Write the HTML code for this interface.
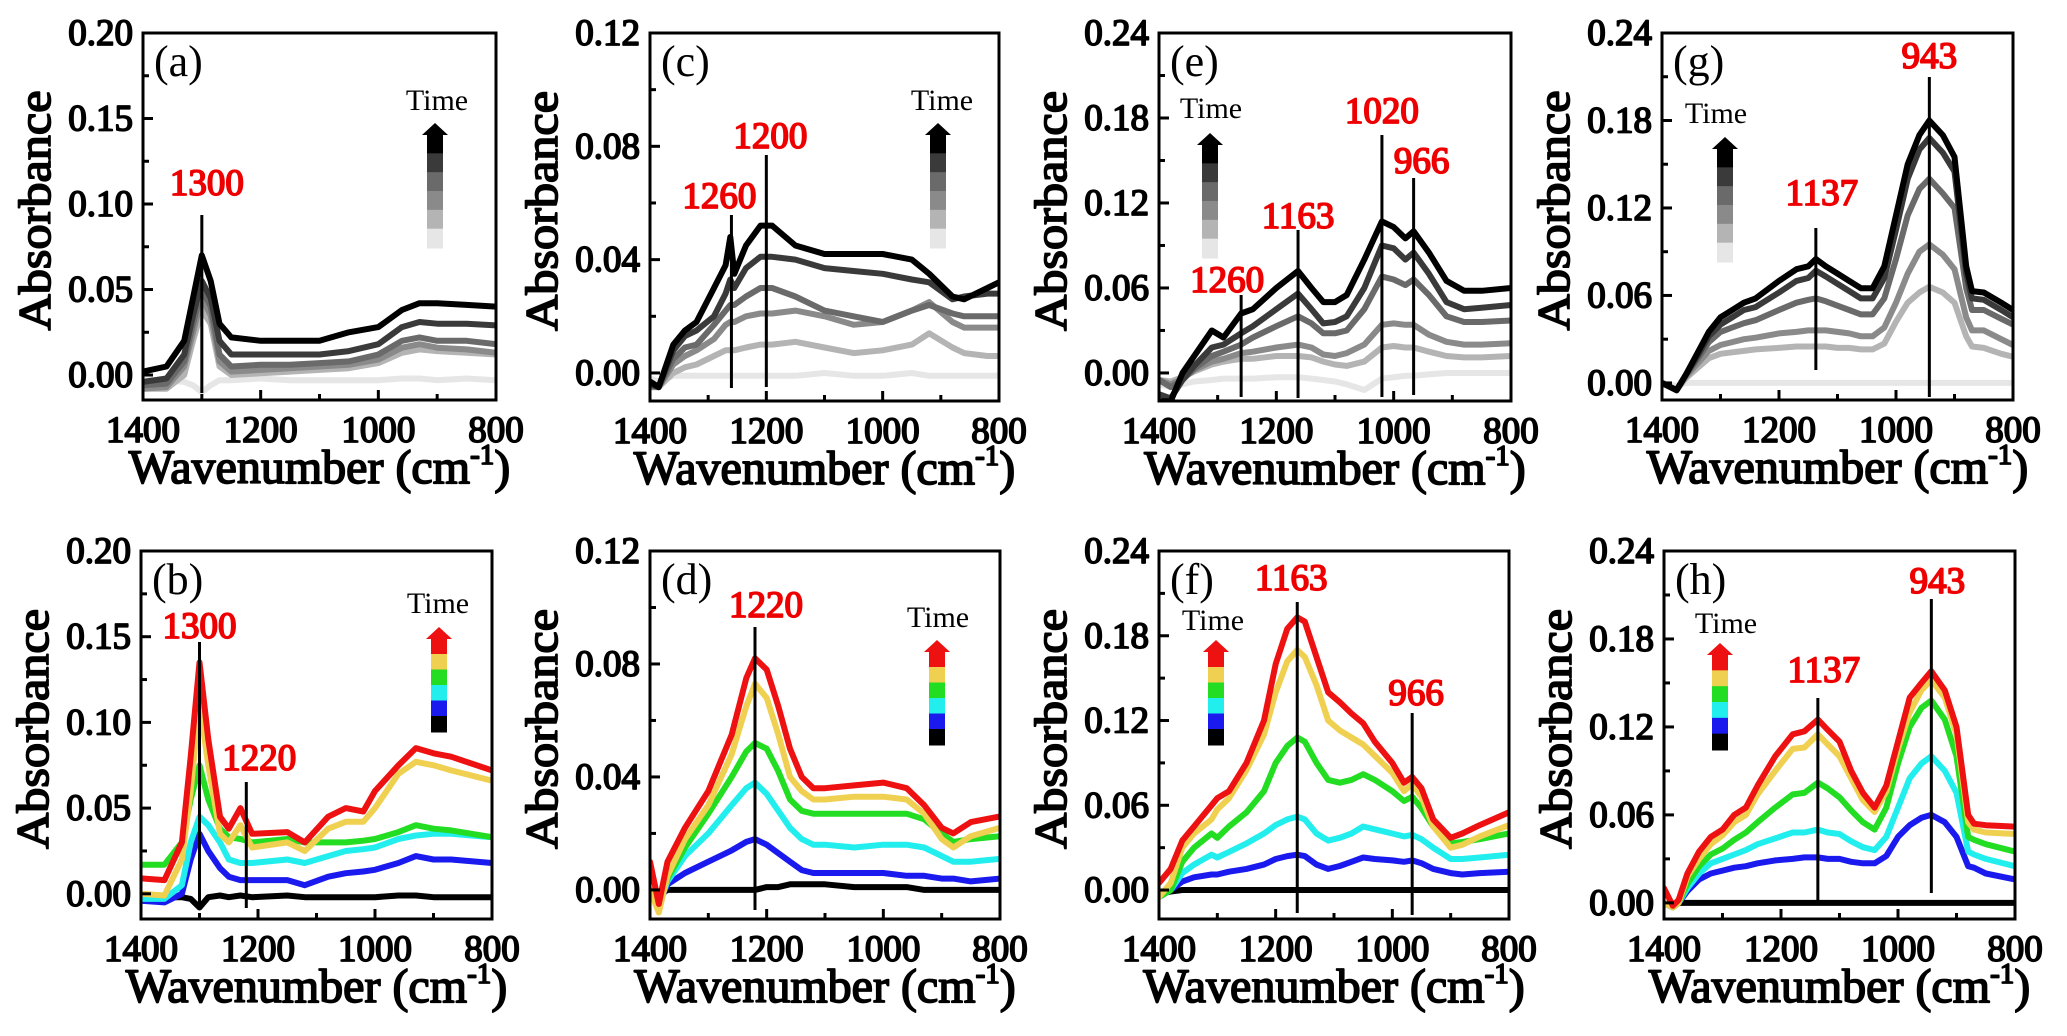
<!DOCTYPE html>
<html>
<head>
<meta charset="utf-8">
<style>
html,body{margin:0;padding:0;background:#fff;}
svg{display:block;}
text{font-family:"Liberation Serif","Times New Roman",serif;}
</style>
</head>
<body>
<svg id="fig" width="2067" height="1036" viewBox="0 0 2067 1036" xmlns="http://www.w3.org/2000/svg" font-family="Liberation Serif, serif"></svg>
<script>
// ---------- data ----------
const grayColors = ["#e6e6e6","#b4b4b4","#8a8a8a","#6a6a6a","#3a3a3a","#000000"];
const rainbowColors = ["#000000","#1a1aee","#22eeee","#22dd22","#f0d050","#ee1111"];

const aX = [1400,1360,1330,1315,1300,1285,1270,1250,1200,1150,1100,1050,1000,960,930,900,850,800];
const aS1 = [0.002,0.005,0.02,0.045,0.07,0.055,0.03,0.022,0.02,0.02,0.02,0.025,0.028,0.038,0.042,0.042,0.041,0.040];
const aS2 = [-0.004,-0.002,0.012,0.035,0.055,0.045,0.02,0.012,0.012,0.012,0.012,0.014,0.018,0.028,0.031,0.03,0.03,0.029];
const aS3 = [-0.006,-0.005,0.008,0.03,0.05,0.04,0.012,0.005,0.006,0.006,0.007,0.008,0.012,0.02,0.022,0.02,0.02,0.018];
const aS4 = [-0.008,-0.007,0.005,0.025,0.045,0.035,0.008,0.002,0.003,0.004,0.005,0.006,0.009,0.016,0.018,0.016,0.015,0.013];
const aS5 = [-0.008,-0.008,0,0.02,0.038,0.03,0.005,0,0.001,0.002,0.003,0.004,0.007,0.013,0.015,0.014,0.013,0.012];
const aS6 = [-0.003,-0.003,-0.004,-0.006,-0.01,-0.006,-0.003,-0.003,-0.002,-0.003,-0.003,-0.003,-0.003,-0.002,-0.002,-0.003,-0.002,-0.003];

const bX = [1400,1360,1330,1315,1300,1285,1265,1250,1230,1210,1150,1120,1080,1050,1020,1000,960,930,900,870,800];
const bRed = [0.009,0.008,0.03,0.08,0.135,0.09,0.045,0.038,0.05,0.035,0.036,0.03,0.045,0.05,0.048,0.06,0.075,0.085,0.082,0.08,0.072];
const bYellow = [0.0,-0.001,0.02,0.06,0.112,0.075,0.035,0.03,0.04,0.027,0.03,0.025,0.038,0.042,0.042,0.05,0.07,0.077,0.075,0.072,0.066];
const bGreen = [0.017,0.017,0.03,0.055,0.075,0.055,0.038,0.033,0.032,0.03,0.032,0.03,0.03,0.03,0.031,0.032,0.036,0.04,0.038,0.037,0.033];
const bCyan = [-0.003,-0.003,0.005,0.03,0.045,0.04,0.03,0.02,0.018,0.018,0.02,0.018,0.022,0.025,0.026,0.027,0.032,0.034,0.035,0.035,0.033];
const bBlue = [-0.004,-0.005,0.0,0.02,0.035,0.025,0.015,0.01,0.008,0.008,0.008,0.005,0.01,0.012,0.013,0.014,0.018,0.022,0.02,0.02,0.018];
const bBlack = [-0.002,-0.002,-0.002,-0.003,-0.008,-0.002,-0.001,-0.002,-0.001,-0.002,-0.001,-0.002,-0.002,-0.002,-0.002,-0.002,-0.001,-0.001,-0.002,-0.002,-0.002];

const cX = [1400,1385,1360,1340,1320,1290,1270,1262,1255,1235,1210,1190,1150,1100,1050,1000,950,920,880,860,820,800];
const cS1 = [-0.003,-0.005,0.01,0.015,0.018,0.03,0.038,0.048,0.035,0.045,0.052,0.052,0.045,0.042,0.042,0.042,0.04,0.035,0.027,0.026,0.03,0.032];
const cS2 = [-0.004,-0.005,0.008,0.013,0.015,0.02,0.028,0.033,0.03,0.037,0.041,0.041,0.04,0.037,0.036,0.035,0.033,0.032,0.026,0.027,0.028,0.028];
const cS3 = [-0.004,-0.005,0.005,0.009,0.01,0.017,0.022,0.024,0.024,0.027,0.03,0.03,0.027,0.022,0.02,0.018,0.022,0.024,0.021,0.02,0.02,0.02];
const cS4 = [-0.005,-0.005,0.003,0.006,0.008,0.012,0.017,0.018,0.018,0.02,0.021,0.021,0.022,0.02,0.017,0.018,0.022,0.025,0.018,0.016,0.016,0.016];
const cS5 = [-0.005,-0.005,0,0.002,0.003,0.006,0.008,0.008,0.008,0.009,0.01,0.01,0.011,0.009,0.007,0.008,0.01,0.014,0.009,0.007,0.006,0.006];
const cS6 = [-0.002,-0.003,-0.001,-0.001,-0.001,-0.001,-0.001,-0.001,-0.001,-0.001,-0.001,-0.001,-0.001,0,-0.001,-0.001,0,-0.001,-0.001,-0.001,-0.001,-0.001];

const dX = [1400,1385,1370,1340,1300,1260,1235,1220,1200,1180,1160,1140,1120,1100,1050,1000,960,930,900,880,850,800];
const dRed = [0.01,-0.005,0.01,0.022,0.035,0.055,0.075,0.082,0.078,0.065,0.05,0.04,0.036,0.036,0.037,0.038,0.036,0.03,0.022,0.02,0.024,0.026];
const dYellow = [0.0,-0.008,0.005,0.018,0.03,0.048,0.065,0.073,0.068,0.055,0.04,0.035,0.032,0.032,0.033,0.033,0.032,0.027,0.018,0.015,0.019,0.022];
const dGreen = [0.0,-0.005,0.004,0.015,0.027,0.04,0.049,0.052,0.05,0.042,0.032,0.028,0.027,0.027,0.027,0.027,0.027,0.025,0.02,0.017,0.018,0.019];
const dCyan = [0.0,-0.005,0.003,0.012,0.02,0.03,0.036,0.038,0.034,0.028,0.022,0.018,0.016,0.016,0.015,0.016,0.016,0.015,0.012,0.01,0.01,0.011];
const dBlue = [0.0,-0.005,0.002,0.006,0.01,0.014,0.017,0.018,0.016,0.013,0.01,0.007,0.006,0.006,0.006,0.006,0.005,0.005,0.004,0.004,0.003,0.004];
const dBlack = [0.0,-0.002,0.0,0.0,0.0,0.0,0.0,0.0,0.001,0.001,0.002,0.002,0.002,0.002,0.001,0.001,0.001,0.0,0.0,0.0,0.0,0.0];

const eX = [1400,1380,1360,1340,1310,1290,1260,1240,1200,1163,1140,1120,1100,1080,1050,1020,1000,980,966,940,910,880,850,800];
const eS1 = [-0.02,-0.02,0.0,0.012,0.03,0.025,0.042,0.045,0.06,0.072,0.06,0.05,0.05,0.055,0.08,0.107,0.103,0.095,0.1,0.085,0.065,0.058,0.058,0.06];
const eS2 = [-0.015,-0.018,-0.005,0.005,0.018,0.02,0.028,0.033,0.045,0.056,0.045,0.035,0.036,0.04,0.06,0.09,0.088,0.08,0.085,0.07,0.05,0.045,0.046,0.048];
const eS3 = [-0.005,-0.01,-0.005,0.003,0.012,0.015,0.02,0.025,0.033,0.04,0.035,0.028,0.028,0.03,0.045,0.068,0.066,0.062,0.066,0.055,0.04,0.036,0.036,0.037];
const eS4 = [-0.005,-0.008,-0.004,0.002,0.008,0.01,0.014,0.015,0.018,0.02,0.018,0.013,0.012,0.014,0.02,0.034,0.035,0.034,0.034,0.027,0.022,0.02,0.02,0.021];
const eS5 = [-0.005,-0.006,-0.003,0.001,0.006,0.008,0.01,0.01,0.012,0.012,0.011,0.008,0.006,0.005,0.008,0.018,0.019,0.018,0.018,0.015,0.012,0.011,0.011,0.012];
const eS6 = [-0.008,-0.01,-0.008,-0.006,-0.005,-0.004,-0.004,-0.004,-0.003,-0.003,-0.004,-0.005,-0.006,-0.008,-0.012,-0.004,-0.003,-0.002,-0.002,-0.001,0,0,0,0];

const fX = [1400,1380,1360,1340,1310,1300,1280,1250,1220,1200,1180,1163,1150,1130,1110,1090,1070,1050,1030,1000,980,966,950,930,900,880,850,800];
const fRed = [0.005,0.015,0.035,0.045,0.06,0.065,0.07,0.09,0.12,0.16,0.185,0.193,0.19,0.165,0.14,0.133,0.125,0.118,0.105,0.09,0.076,0.08,0.072,0.05,0.037,0.04,0.046,0.055];
const fYellow = [-0.005,0.005,0.03,0.04,0.05,0.057,0.065,0.085,0.11,0.14,0.162,0.17,0.165,0.145,0.12,0.113,0.108,0.103,0.095,0.083,0.07,0.075,0.066,0.045,0.03,0.032,0.038,0.046];
const fGreen = [-0.005,0.0,0.02,0.03,0.04,0.037,0.045,0.055,0.07,0.09,0.102,0.108,0.105,0.09,0.078,0.076,0.078,0.082,0.078,0.07,0.063,0.066,0.058,0.045,0.033,0.034,0.036,0.04];
const fCyan = [-0.005,0.0,0.012,0.018,0.025,0.023,0.027,0.033,0.04,0.046,0.05,0.052,0.05,0.04,0.035,0.037,0.04,0.045,0.043,0.04,0.038,0.039,0.036,0.03,0.022,0.022,0.023,0.025];
const fBlue = [-0.005,0.0,0.006,0.009,0.011,0.011,0.013,0.015,0.018,0.022,0.024,0.025,0.024,0.018,0.015,0.017,0.02,0.023,0.022,0.021,0.02,0.021,0.019,0.015,0.012,0.011,0.012,0.013];
const fBlack = [-0.003,-0.001,0,0,0,0,0,0,0,0,0,0,0,0,0,0,0,0,0,0,0,0,0,0,0,0,0,0];

const gX = [1400,1375,1360,1340,1320,1300,1280,1260,1240,1200,1170,1150,1137,1120,1100,1080,1060,1040,1020,1000,980,960,943,920,900,880,870,850,820,800];
const gS1 = [0.0,-0.005,0.005,0.02,0.035,0.045,0.05,0.055,0.058,0.07,0.078,0.08,0.085,0.08,0.075,0.07,0.065,0.065,0.08,0.115,0.15,0.17,0.18,0.17,0.155,0.08,0.063,0.062,0.055,0.05];
const gS2 = [0.0,-0.005,0.005,0.018,0.032,0.04,0.045,0.05,0.052,0.062,0.07,0.072,0.077,0.073,0.068,0.063,0.058,0.058,0.072,0.105,0.14,0.16,0.168,0.158,0.145,0.075,0.058,0.057,0.05,0.045];
const gS3 = [0.0,-0.005,0.005,0.016,0.028,0.035,0.038,0.041,0.043,0.05,0.055,0.057,0.058,0.056,0.053,0.05,0.047,0.047,0.058,0.085,0.115,0.133,0.14,0.13,0.12,0.065,0.05,0.05,0.044,0.04];
const gS4 = [0.0,-0.005,0.004,0.013,0.022,0.026,0.028,0.03,0.031,0.034,0.035,0.036,0.036,0.036,0.035,0.034,0.032,0.032,0.038,0.055,0.075,0.09,0.095,0.088,0.078,0.045,0.036,0.036,0.03,0.026];
const gS5 = [0.0,-0.005,0.003,0.01,0.017,0.02,0.021,0.022,0.023,0.024,0.025,0.025,0.025,0.025,0.024,0.024,0.023,0.023,0.027,0.042,0.055,0.062,0.066,0.062,0.055,0.032,0.025,0.024,0.02,0.018];
const gS6 = [0.0,-0.002,0,0,0,0,0,0,0,0,0,0,0,0,0,0,0,0,0,0,0,0,0,0,0,0,0,0,0,0];

const hX = [1400,1385,1375,1360,1340,1320,1300,1280,1260,1240,1210,1180,1160,1137,1120,1100,1080,1060,1040,1020,1000,980,960,943,920,900,880,870,850,800];
const hRed = [0.01,-0.002,0.002,0.02,0.035,0.045,0.05,0.06,0.065,0.08,0.1,0.115,0.117,0.125,0.118,0.11,0.09,0.075,0.065,0.08,0.11,0.14,0.15,0.158,0.145,0.12,0.06,0.054,0.053,0.052];
const hYellow = [0.0,-0.003,0.0,0.018,0.03,0.04,0.046,0.055,0.06,0.074,0.09,0.105,0.106,0.115,0.108,0.1,0.085,0.07,0.062,0.076,0.105,0.13,0.145,0.152,0.14,0.115,0.055,0.05,0.048,0.047];
const hGreen = [0.0,-0.003,0.0,0.013,0.025,0.033,0.037,0.043,0.048,0.055,0.065,0.074,0.075,0.082,0.078,0.072,0.063,0.055,0.05,0.065,0.095,0.12,0.133,0.138,0.125,0.1,0.045,0.043,0.04,0.035];
const hCyan = [0.0,-0.003,0.0,0.01,0.02,0.027,0.03,0.033,0.036,0.04,0.044,0.048,0.048,0.05,0.048,0.047,0.042,0.038,0.036,0.045,0.065,0.085,0.095,0.1,0.09,0.075,0.035,0.033,0.03,0.025];
const hBlue = [0.0,-0.003,0.0,0.008,0.016,0.02,0.022,0.024,0.025,0.027,0.029,0.03,0.031,0.031,0.03,0.03,0.028,0.027,0.027,0.032,0.045,0.053,0.058,0.06,0.055,0.045,0.025,0.024,0.02,0.016];
const hBlack = [0.0,-0.003,0,0,0,0,0,0,0,0,0,0,0,0,0,0,0,0,0,0,0,0,0,0,0,0,0,0,0,0];

const xTickLabels = [1400,1200,1000,800];
const xTicks = [1400,1300,1200,1100,1000,900,800];

// ---------- layout ----------
const panels = [
 {id:"a", x0:143,x1:496,y0:33,y1:400,ymax:0.20,ymin:-0.0146,step:0.05,xs:aX,series:[aS6,aS5,aS4,aS3,aS2,aS1],colors:grayColors,
  leg:{cx:435,top:123,h:125,tx:437,tb:110},
  peaks:[{w:1300,t:"1300",dx:5,lb:195,top:215,bot:393}]},
 {id:"b", x0:141,x1:492,y0:551,y1:919,ymax:0.20,ymin:-0.0147,step:0.05,xs:bX,series:[bBlack,bBlue,bCyan,bGreen,bYellow,bRed],colors:rainbowColors,
  leg:{cx:439,top:627,h:105,tx:438,tb:613},
  peaks:[{w:1300,t:"1300",dx:0,lb:638,top:642,bot:907},{w:1220,t:"1220",dx:13,lb:770,top:782,bot:908}]},
 {id:"c", x0:650,x1:999,y0:33,y1:401,ymax:0.12,ymin:-0.0099,step:0.04,xs:cX,series:[cS6,cS5,cS4,cS3,cS2,cS1],colors:grayColors,
  leg:{cx:938,top:123,h:125,tx:942,tb:110},
  peaks:[{w:1260,t:"1260",dx:-12,lb:208,top:215,bot:388},{w:1200,t:"1200",dx:4,lb:148,top:155,bot:387}]},
 {id:"d", x0:650,x1:1000,y0:551,y1:919,ymax:0.12,ymin:-0.0103,step:0.04,xs:dX,series:[dBlack,dBlue,dCyan,dGreen,dYellow,dRed],colors:rainbowColors,
  leg:{cx:937,top:640,h:105,tx:938,tb:627},
  peaks:[{w:1220,t:"1220",dx:11,lb:617,top:627,bot:910}]},
 {id:"e", x0:1159,x1:1511,y0:33,y1:401,ymax:0.24,ymin:-0.0198,step:0.06,xs:eX,series:[eS6,eS5,eS4,eS3,eS2,eS1],colors:grayColors,
  leg:{cx:1210,top:133,h:125,tx:1211,tb:118},
  peaks:[{w:1260,t:"1260",dx:-14,lb:292,top:295,bot:397},{w:1163,t:"1163",dx:0,lb:228,top:230,bot:398},{w:1020,t:"1020",dx:0,lb:123,top:135,bot:397},{w:966,t:"966",dx:8,lb:173,top:178,bot:395}]},
 {id:"f", x0:1159,x1:1509,y0:551,y1:919,ymax:0.24,ymin:-0.0205,step:0.06,xs:fX,series:[fBlack,fBlue,fCyan,fGreen,fYellow,fRed],colors:rainbowColors,
  leg:{cx:1216,top:640,h:105,tx:1213,tb:630},
  peaks:[{w:1163,t:"1163",dx:-6,lb:590,top:602,bot:913},{w:966,t:"966",dx:4,lb:705,top:713,bot:915}]},
 {id:"g", x0:1662,x1:2013,y0:33,y1:400,ymax:0.24,ymin:-0.0117,step:0.06,xs:gX,series:[gS6,gS5,gS4,gS3,gS2,gS1],colors:grayColors,
  leg:{cx:1725,top:137,h:125,tx:1716,tb:123},
  peaks:[{w:1137,t:"1137",dx:6,lb:205,top:228,bot:370},{w:943,t:"943",dx:0,lb:68,top:77,bot:397}]},
 {id:"h", x0:1664,x1:2015,y0:551,y1:919,ymax:0.24,ymin:-0.011,step:0.06,xs:hX,series:[hBlack,hBlue,hCyan,hGreen,hYellow,hRed],colors:rainbowColors,
  leg:{cx:1720,top:643,h:107,tx:1726,tb:633},
  peaks:[{w:1137,t:"1137",dx:6,lb:682,top:698,bot:905},{w:943,t:"943",dx:6,lb:593,top:599,bot:893}]}
];

const NS = "http://www.w3.org/2000/svg";
const svg = document.getElementById("fig");
const SERIF = '"Liberation Serif", "Times New Roman", serif';
function mk(tag, attrs, parent){
  const el = document.createElementNS(NS, tag);
  let fauxBold = false;
  for (const k in attrs) {
    if (tag === "text" && k === "font-weight" && attrs[k] === "bold") { fauxBold = true; continue; }
    el.setAttribute(k, attrs[k]);
  }
  if (tag === "text") {
    el.setAttribute("font-family", SERIF);
    if (fauxBold) {
      const col = attrs.fill || "#000";
      el.setAttribute("stroke", col);
      el.setAttribute("stroke-width", "1.7");
      el.setAttribute("stroke-linejoin", "round");
    }
  }
  (parent||svg).appendChild(el);
  return el;
}

panels.forEach(p => {
  const g = mk("g", {});
  
  
  const sx = w => p.x0 + (1400 - w) / 600 * (p.x1 - p.x0);
  const sy = v => p.y0 + (p.ymax - v) / (p.ymax - p.ymin) * (p.y1 - p.y0);

  const cp = mk("clipPath", {id:"clip-" + p.id}, g);
  mk("rect", {x:p.x0, y:p.y0, width:p.x1-p.x0, height:p.y1-p.y0}, cp);

  const sg = mk("g", {"clip-path":"url(#clip-" + p.id + ")"}, g);
  p.series.forEach((s, i) => {
    let d = "";
    s.forEach((v, j) => { d += (j ? "L" : "M") + sx(p.xs[j]).toFixed(1) + "," + sy(v).toFixed(1); });
    const path = mk("path", {d:d, fill:"none", stroke:p.colors[i], "stroke-width":6, "stroke-linejoin":"round", "stroke-linecap":"round"}, sg);
    
    
  });

  p.peaks.forEach(pk => {
    const x = sx(pk.w);
    const ln = mk("line", {x1:x, x2:x, y1:pk.top, y2:pk.bot, stroke:"#000", "stroke-width":3}, g);
    
    
    const t = mk("text", {x:x + pk.dx, y:pk.lb, "text-anchor":"middle", "font-size":37, "font-weight":"bold", fill:"#ee0000"}, g);
    t.textContent = pk.t;
    
    
  });

  const fr = mk("rect", {x:p.x0, y:p.y0, width:p.x1-p.x0, height:p.y1-p.y0, fill:"none", stroke:"#000", "stroke-width":3}, g);
  
  

  xTicks.forEach(w => {
    const major = xTickLabels.indexOf(w) >= 0;
    mk("line", {x1:sx(w), x2:sx(w), y1:p.y1, y2:p.y1 - (major ? 10 : 6), stroke:"#000", "stroke-width":3}, g);
  });
  xTickLabels.forEach(w => {
    const t = mk("text", {x:sx(w), y:p.y1 + 42, "text-anchor":"middle", "font-size":37, "font-weight":"bold"}, g);
    t.textContent = w;
    
    
  });
  const n = Math.round(p.ymax / p.step);
  for (let k = 0; k <= n; k++) {
    const v = k * p.step;
    mk("line", {x1:p.x0, x2:p.x0 + 10, y1:sy(v), y2:sy(v), stroke:"#000", "stroke-width":3}, g);
    if (k < n) mk("line", {x1:p.x0, x2:p.x0 + 6, y1:sy(v + p.step/2), y2:sy(v + p.step/2), stroke:"#000", "stroke-width":3}, g);
    const t = mk("text", {x:p.x0 - 10, y:sy(v) + 12, "text-anchor":"end", "font-size":37, "font-weight":"bold"}, g);
    t.textContent = v.toFixed(2);
    
    
  }

  const cx = (p.x0 + p.x1) / 2;
  const xt = mk("text", {x:cx, y:p.y1 + 83, "text-anchor":"middle", "font-size":48, "font-weight":"bold"}, g);
  xt.textContent = "Wavenumber (cm";
  const sup = mk("tspan", {"font-size":29, dy:-19}, xt);
  sup.textContent = "-1";
  const cl = mk("tspan", {dy:19}, xt);
  cl.textContent = ")";
  
  

  const cy = (p.y0 + p.y1) / 2 - 6;
  const yt = mk("text", {x:0, y:0, "text-anchor":"middle", "font-size":46, "font-weight":"bold", textLength:240, lengthAdjust:"spacingAndGlyphs",
    transform:"translate(" + (p.x0 - 93) + "," + cy + ") rotate(-90)"}, g);
  yt.textContent = "Absorbance";
  
  

  const pl = mk("text", {x:p.x0 + 11, y:p.y0 + 43, "font-size":44}, g);
  pl.textContent = "(" + p.id + ")";
  
  

  const L = p.leg;
  const lg = mk("g", {}, g);
  
  
  const tt = mk("text", {x:L.tx, y:L.tb, "text-anchor":"middle", "font-size":30}, lg);
  tt.textContent = "Time";
  const headH = 12;
  const headColor = p.colors[p.colors.length - 1];
  mk("polygon", {points:(L.cx-13)+","+(L.top+headH)+" "+(L.cx+13)+","+(L.top+headH)+" "+L.cx+","+L.top, fill:headColor}, lg);
  const segH = (L.h - headH) / 6;
  for (let i = 0; i < 6; i++) {
    const col = p.colors[5 - i];
    mk("rect", {x:L.cx - 8, y:L.top + headH + i*segH - 0.5, width:16, height:segH + 1, fill:col}, lg);
  }
});
</script>
</body>
</html>
